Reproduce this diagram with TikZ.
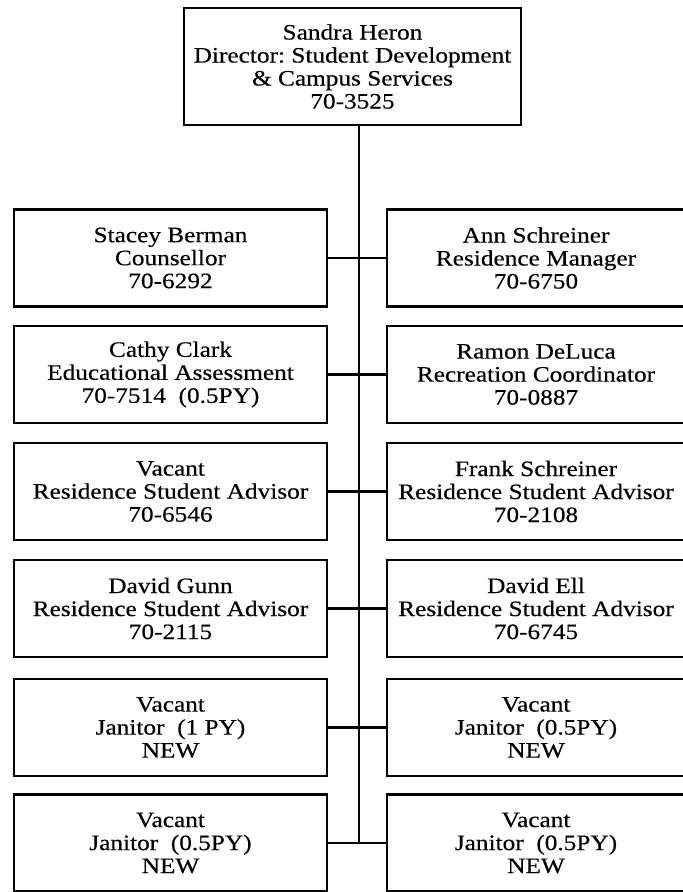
\documentclass[tikz,border=0pt]{standalone}
\usepackage{fontspec}
\setmainfont[FakeStretch=1.15,FakeBold=0.4]{Liberation Serif}
\frenchspacing
\begin{document}
\begin{tikzpicture}[x=1pt,y=-1pt,
  box/.style={draw, line width=2.2pt, inner sep=0pt, align=center,
    font=\fontsize{22}{23}\selectfont, minimum height=97pt},
  lbox/.style={box, minimum width=313pt},
  rbox/.style={box, minimum width=298pt},
  conn/.style={line width=2.2pt}]
\useasboundingbox (0,0) rectangle (683,892);
\node[box, minimum width=337pt, minimum height=117pt] (top) at (352.5,66.5)
  {Sandra Heron\\Director: Student Development\\\& Campus Services\\70-3525};
% left column
\node[lbox] (L1) at (170.5,258) {Stacey Berman\\Counsellor\\70-6292};
\node[lbox] (L2) at (170.5,374.5) {Cathy Clark\\Educational Assessment\\70-7514\ \ (0.5PY)};
\node[lbox] (L3) at (170.5,491.5) {Vacant\\Residence Student Advisor\\70-6546};
\node[lbox] (L4) at (170.5,608.5) {David Gunn\\Residence Student Advisor\\70-2115};
\node[lbox] (L5) at (170.5,727.5) {Vacant\\Janitor\ \ (1 PY)\\NEW};
\node[lbox] (L6) at (170.5,843) {Vacant\\Janitor\ \ (0.5PY)\\NEW};
% right column
\node[rbox] (R1) at (536,258) {Ann Schreiner\\Residence Manager\\70-6750};
\node[rbox] (R2) at (536,374.5) {Ramon DeLuca\\Recreation Coordinator\\70-0887};
\node[rbox] (R3) at (536,491.5) {Frank Schreiner\\Residence Student Advisor\\70-2108};
\node[rbox] (R4) at (536,608.5) {David Ell\\Residence Student Advisor\\70-6745};
\node[rbox] (R5) at (536,727.5) {Vacant\\Janitor\ \ (0.5PY)\\NEW};
\node[rbox] (R6) at (536,843) {Vacant\\Janitor\ \ (0.5PY)\\NEW};
% trunk
\coordinate (tb) at (359,843);
\draw[conn] (top.south -| tb) -- (tb);
% row connectors
\foreach \i in {1,...,6} {
  \draw[conn] (L\i.east) -- (R\i.west);
}
\end{tikzpicture}
\end{document}
